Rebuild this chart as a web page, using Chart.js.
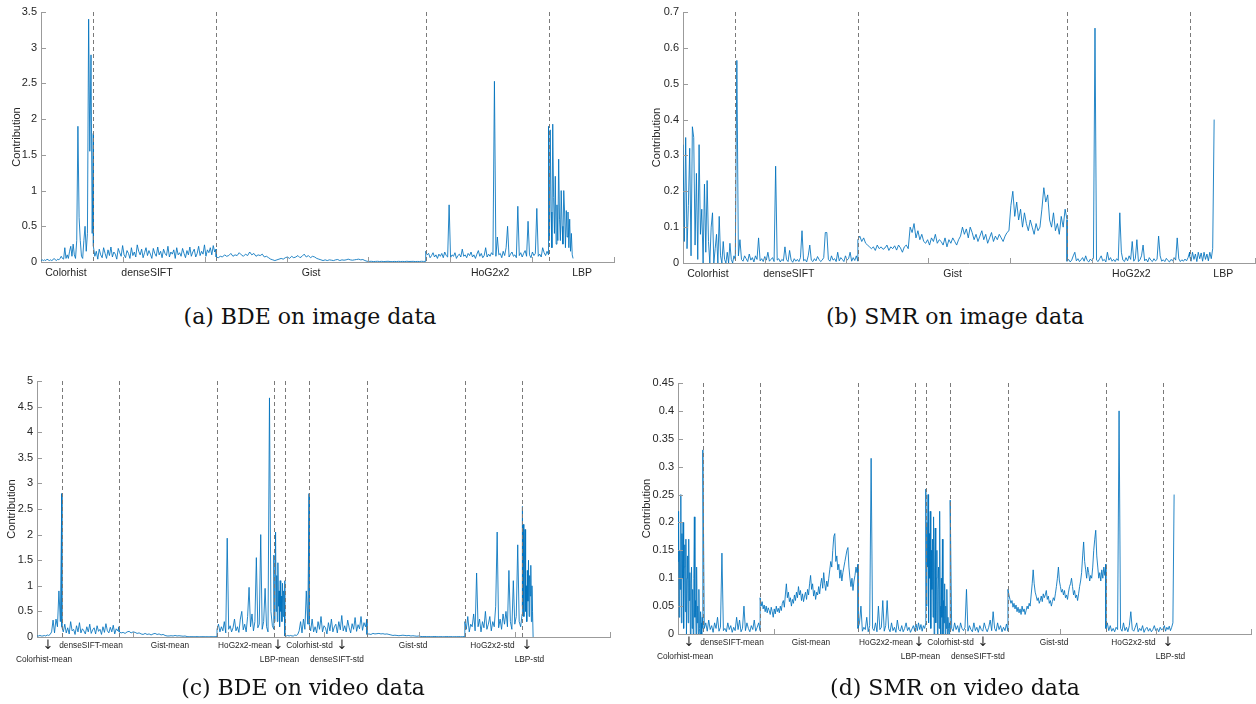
<!DOCTYPE html>
<html>
<head>
<meta charset="utf-8">
<script src="https://cdn.jsdelivr.net/npm/chart.js@4.4.1/dist/chart.umd.min.js"></script>
<style>
  html, body { margin: 0; padding: 0; background: #ffffff; }
  body { width: 1256px; height: 704px; position: relative; overflow: hidden; }
  canvas { position: absolute; }
  .cap { position: absolute; font-family: "DejaVu Serif", "Liberation Serif", serif; font-size: 22px; color: #111; white-space: nowrap; transform: translateX(-50%); }
</style>
</head>
<body>
<canvas id="cA" width="630" height="300" style="left:0px;top:0px"></canvas>
<canvas id="cB" width="616" height="300" style="left:640px;top:0px"></canvas>
<canvas id="cC" width="630" height="334" style="left:0px;top:370px"></canvas>
<canvas id="cD" width="616" height="334" style="left:640px;top:370px"></canvas>
<div class="cap" style="left:310px;top:304px">(a) BDE on image data</div>
<div class="cap" style="left:955px;top:304px">(b) SMR on image data</div>
<div class="cap" style="left:303px;top:675px">(c) BDE on video data</div>
<div class="cap" style="left:955px;top:675px">(d) SMR on video data</div>
<script>
// ---------------- categories / tick labels ----------------
const imgFeatures = ['Colorhist', 'denseSIFT', 'Gist', 'HoG2x2', 'LBP'];
const imgBounds = [0, 640, 2140, 4700, 6200, 6500];
const imgLabelPos = [305, 1295, 3300, 5487, 6611];

const vidFeatures = ['Colorhist-mean', 'denseSIFT-mean', 'Gist-mean', 'HoG2x2-mean', 'LBP-mean',
                     'Colorhist-std', 'denseSIFT-std', 'Gist-std', 'HoG2x2-std', 'LBP-std'];
const vidBounds = [0, 520, 1720, 3770, 4960, 5190, 5700, 6910, 8960, 10160, 10390];
const vidRow1Text = ['↓', 'denseSIFT-mean', 'Gist-mean', 'HoG2x2-mean', '↓', 'Colorhist-std', '↓', 'Gist-std', 'HoG2x2-std', '↓'];
const vidRow1Pos = [230, 1131, 2785, 4356, 5047, 5706, 6387, 7874, 9538, 10261];
const vidRow2Text = ['Colorhist-mean', 'LBP-mean', 'denseSIFT-std', 'LBP-std'];
const vidRow2Pos = [147, 5078, 6282, 10313];

// ---------------- (a) BDE on image data ----------------
const bdeImgColorhist = [0.02,0.03,0.02,0.03,0.02,0.04,0.03,0.02,0.03,0.02,0.03,0.05,0.03,0.02,0.04,0.03,0.05,0.08,0.05,0.04,0.2,0.05,0.1,0.05,0.15,0.22,0.08,0.25,0.1,0.05,0.3,1.9,0.62,0.3,0.08,0.05,0.3,0.5,0.15,0.4,3.4,1.55,2.9,0.4,1.8];
const bdeImgDenseSIFT = [0.22,0.08,0.15,0.04,0.18,0.1,0.06,0.2,0.12,0.05,0.17,0.09,0.21,0.07,0.14,0.11,0.04,0.19,0.13,0.08,0.23,0.1,0.06,0.16,0.12,0.05,0.2,0.09,0.14,0.07,0.24,0.15,0.1,0.18,0.06,0.13,0.2,0.09,0.16,0.11,0.05,0.19,0.12,0.08,0.21,0.1,0.15,0.06,0.18,0.12,0.09,0.22,0.07,0.14,0.11,0.17,0.05,0.2,0.1,0.13,0.08,0.19,0.12,0.06,0.16,0.1,0.21,0.08,0.14,0.18,0.07,0.12,0.22,0.09,0.15,0.11,0.24,0.08,0.17,0.13,0.2,0.1,0.23,0.14,0.18];
const bdeImgGist = [0.07,0.06,0.08,0.07,0.1,0.08,0.09,0.12,0.08,0.1,0.09,0.13,0.1,0.08,0.11,0.09,0.14,0.1,0.12,0.08,0.1,0.09,0.11,0.07,0.08,0.06,
  0.04,0.03,0.02,0.03,0.04,0.05,0.04,
  0.06,0.07,0.05,0.08,0.06,0.07,0.09,0.06,0.08,0.11,0.07,0.09,0.06,0.08,0.07,0.05,0.04,0.03,
  0.02,0.03,0.02,0.03,0.025,0.02,0.03,0.035,0.02,0.03,0.025,0.03,0.04,0.03,0.025,0.03,0.035,0.04,0.03,0.035,0.02,0.01,
  0.008,0.01,0.006,0.008,0.01,0.007,0.009,0.006,0.008,0.01,0.007,0.005,0.008,0.006,0.009,0.007,0.008,0.006,0.01,0.007,0.008,0.009,0.006,0.008,0.007,0.01,0.008,0.009];
const bdeImgHoG2x2 = [0.15,0.1,0.12,0.06,0.09,0.13,0.07,0.1,0.05,0.11,0.08,0.12,0.06,0.14,0.09,0.07,0.8,
  0.06,0.1,0.08,0.13,0.05,0.09,0.11,0.07,0.18,0.08,0.1,0.06,0.12,0.09,0.14,0.07,0.1,0.05,0.11,0.16,0.08,0.12,0.06,0.09,0.2,0.07,0.11,0.08,0.13,0.1,
  2.53,0.08,0.35,0.1,0.12,0.06,0.15,0.09,0.2,0.5,0.07,0.11,0.14,0.08,0.1,0.06,0.78,0.09,0.13,0.07,0.12,0.16,0.08,0.57,0.1,0.06,0.14,0.09,0.12,0.75,0.08,0.11,0.07,0.2,0.13,0.09,0.15,0.1];
const bdeImgLBP = [1.9,0.3,1.85,0.7,0.2,1.93,0.9,0.4,1.2,0.25,0.8,0.3,1.44,0.6,0.3,1.0,0.5,0.25,1.0,0.7,0.2,0.72,0.35,0.7,0.2,0.6,0.15,0.4,0.1,0.05];

// ---------------- (b) SMR on image data ----------------
const smrImgColorhist = [0.33,0.06,0.35,0.04,0.16,0.32,0.02,0.38,0.35,0.05,0.25,0.01,0.33,0.08,0.15,0.0,0.22,0.03,0.23,0.06,0.0,0.1,0.14,0.0,0.04,0.08,0.0,0.13,0.02,0.0,0.06,0.01,0.0,0.03,0.0,0.055,0.01,0.0,0.02,0.01];
const smrImgDenseSIFT = [0.01,0.565,0.02,0.065,0.01,0.005,0.02,0.012,0.004,0.025,0.008,0.015,0.003,0.02,0.01,0.07,0.006,0.012,0.004,0.018,0.008,0.03,0.005,0.01,0.015,0.004,0.27,0.008,0.012,0.003,0.01,0.006,0.045,0.01,0.004,0.035,0.008,0.002,0.012,0.005,0.01,0.004,0.015,0.09,0.006,0.01,0.003,0.02,0.05,0.008,0.004,0.012,0.006,0.018,0.01,0.004,0.008,0.015,0.085,0.085,0.01,0.005,0.02,0.008,0.012,0.004,0.03,0.006,0.015,0.01,0.004,0.02,0.008,0.012,0.03,0.005,0.015,0.007,0.02,0.005];
const smrImgGist = [0.065,0.075,0.06,0.07,0.055,0.05,0.045,
  0.04,0.045,0.035,0.05,0.04,0.045,0.038,0.042,0.05,0.035,0.045,0.04,0.048,0.036,0.05,0.042,0.03,0.045,0.05,0.04,
  0.1,0.085,0.11,0.07,0.09,0.065,0.08,0.06,0.055,0.065,0.05,0.07,0.06,0.08,0.055,0.065,
  0.06,0.05,0.07,0.045,0.065,0.055,0.07,0.06,0.05,0.065,0.075,
  0.1,0.08,0.095,0.07,0.1,0.085,0.065,0.08,0.06,0.075,0.09,0.065,0.08,0.055,0.07,0.085,0.06,0.075,0.065,0.08,0.07,0.06,0.075,0.085,0.09,
  0.16,0.2,0.13,0.17,0.12,0.15,0.1,0.14,0.11,0.09,0.12,0.1,0.08,0.11,0.09,0.1,
  0.15,0.21,0.17,0.19,0.12,0.1,0.14,0.09,0.11,0.08,0.13,0.1,0.15,0.12];
const smrImgHoG2x2 = [0.005,0.01,0.003,0.008,0.02,0.03,0.006,0.012,0.004,0.009,0.015,0.005,0.02,0.007,0.003,0.011,0.006,0.014,0.655,0.008,0.004,0.012,0.02,0.006,0.01,0.003,0.03,0.008,0.015,0.005,0.01,0.004,0.012,0.007,0.14,0.03,0.008,0.004,0.015,0.006,0.02,0.01,0.06,0.005,0.012,0.065,0.004,0.009,0.02,0.05,0.006,0.011,0.003,0.015,0.008,0.004,0.012,0.006,0.01,0.075,0.02,0.005,0.009,0.004,0.013,0.007,0.003,0.01,0.006,0.015,0.008,0.07,0.012,0.004,0.009,0.005,0.011,0.006,0.015,0.03];
const smrImgLBP = [0.02,0.005,0.03,0.01,0.025,0.004,0.03,0.012,0.028,0.005,0.03,0.01,0.025,0.006,0.03,0.012,0.04,0.4];

// ---------------- (c) BDE on video data ----------------
const bdeVidColorhistMean = [0.02,0.02,0.03,0.02,0.02,0.03,0.02,0.04,0.03,0.05,0.1,0.33,0.08,0.35,0.2,0.9,0.3,2.8];
const bdeVidDenseSIFTMean = [0.2,0.1,0.25,0.08,0.18,0.06,0.3,0.12,0.15,0.05,0.22,0.1,0.28,0.08,0.16,0.12,0.06,0.2,0.1,0.25,0.07,0.14,0.18,0.06,0.22,0.11,0.15,0.05,0.2,0.09,0.26,0.12,0.08,0.19,0.1,0.23,0.06,0.16,0.12,0.2];
const bdeVidGistMean = [0.1,0.08,0.09,0.07,0.1,0.11,0.08,0.1,0.09,0.07,0.08,
  0.06,0.05,0.07,0.05,0.06,0.04,0.06,0.07,0.05,0.06,0.04,0.05,0.03,0.02,
  0.02,0.025,0.02,0.03,0.02,0.025,0.02,0.015,0.02,
  0.008,0.005,0.007,0.006,0.005,0.008,0.004,0.006,0.007,0.005,0.006,0.004,0.007,0.005,0.006,0.008];
const bdeVidHoG2x2Mean = [0.15,0.25,0.1,0.2,0.12,0.3,0.08,1.93,0.15,0.22,0.1,0.18,0.35,0.12,0.2,0.09,0.35,0.5,0.14,0.25,0.1,0.4,0.97,0.2,0.45,0.12,0.3,1.55,0.18,0.25,2.0,0.15,0.3,0.95,0.2,0.1,4.67,0.5,0.22,0.15];
const bdeVidLBPMean = [1.6,0.3,0.9,2.05,0.5,1.2,0.3,1.45,0.6,0.9,0.2,1.1,0.5,0.8,0.3,1.05,0.4,0.9,0.6,1.1];
const bdeVidColorhistStd = [0.02,0.02,0.03,0.02,0.03,0.02,0.02,0.04,0.03,0.05,0.12,0.3,0.08,0.35,0.15,0.9,0.25,2.8];
const bdeVidDenseSIFTStd = [0.25,0.12,0.35,0.1,0.2,0.08,0.3,0.15,0.4,0.1,0.22,0.18,0.06,0.28,0.12,0.35,0.1,0.2,0.25,0.08,0.3,0.14,0.42,0.12,0.22,0.1,0.33,0.18,0.08,0.26,0.15,0.38,0.11,0.24,0.16,0.4,0.13,0.28,0.2,0.35];
const bdeVidGistStd = [0.05,0.06,0.05,0.07,0.06,0.065,0.07,0.06,0.065,0.055,0.06,0.05,
  0.04,0.03,0.035,0.03,0.025,0.03,0.035,0.03,0.025,0.03,0.02,0.025,0.02,0.015,0.02,
  0.01,0.008,0.01,0.007,0.009,0.006,0.008,0.01,0.007,0.006,0.008,0.005,0.007,0.009,0.006,0.008,0.005,0.007,0.006,0.008,0.005,0.007,0.01];
const bdeVidHoG2x2Std = [0.3,0.15,0.4,0.1,0.25,0.2,0.45,0.12,1.25,0.2,0.35,0.1,0.3,0.18,0.5,0.15,0.25,0.4,0.12,0.3,0.2,0.6,2.05,0.18,0.35,0.15,0.45,0.25,0.5,0.2,1.3,0.3,0.15,1.1,0.25,0.4,1.8,0.3,0.2,0.45];
const bdeVidLBPStd = [2.55,0.6,2.2,0.4,1.5,2.1,0.5,1.0,0.3,1.3,0.7,1.5,0.4,1.2,0.8,1.4,0.3,1.0,0.5,0.0];

// ---------------- (d) SMR on video data ----------------
const smrVidColorhistMean = [0.13,0.22,0.03,0.15,0.08,0.25,0.02,0.18,0.1,0.2,0.01,0.12,0.16,0.04,0.17,0.0,0.1,0.14,0.02,0.17,0.06,0.11,0.0,0.09,0.12,0.01,0.08,0.0,0.1,0.21,0.03,0.06,0.0,0.12,0.02,0.05,0.0,0.08,0.01,0.0,0.04,0.02,0.0,0.03,0.01];
const smrVidDenseSIFTMean = [0.33,0.01,0.02,0.005,0.025,0.008,0.015,0.003,0.02,0.01,0.03,0.005,0.012,0.145,0.006,0.01,0.004,0.02,0.008,0.015,0.003,0.012,0.006,0.03,0.008,0.025,0.004,0.01,0.05,0.006,0.02,0.01,0.004,0.015,0.008,0.025,0.005,0.012,0.02,0.006];
const smrVidGistMean = [0.065,0.05,0.058,0.045,0.052,0.04,0.05,0.038,0.047,0.042,
  0.035,0.048,0.04,0.03,0.045,0.036,0.05,0.04,0.046,0.038,
  0.05,0.042,0.055,0.06,0.048,0.07,0.09,0.065,0.075,0.058,
  0.065,0.05,0.062,0.055,0.07,0.06,0.075,0.065,0.085,0.07,
  0.078,0.06,0.072,0.058,0.068,0.075,0.062,0.08,0.07,0.09,
  0.105,0.08,0.09,0.068,0.078,0.062,0.075,0.07,0.085,0.072,
  0.09,0.1,0.082,0.11,0.09,0.078,0.095,0.085,0.1,0.115,
  0.13,0.12,0.15,0.175,0.18,0.13,0.14,0.115,0.125,0.1,
  0.115,0.095,0.11,0.12,0.13,0.14,0.15,0.155,0.12,0.1,
  0.085,0.1,0.078,0.095,0.105,0.12,0.11,0.125];
const smrVidHoG2x2Mean = [0.01,0.02,0.05,0.005,0.012,0.008,0.03,0.004,0.015,0.315,0.01,0.006,0.02,0.004,0.05,0.008,0.012,0.06,0.005,0.015,0.06,0.01,0.004,0.02,0.006,0.012,0.003,0.025,0.008,0.005,0.015,0.004,0.01,0.02,0.006,0.012,0.003,0.009,0.015,0.005];
const smrVidLBPMean = [0.01,0.018,0.006,0.02,0.008,0.017,0.005,0.015,0.01,0.02];
const smrVidColorhistStd = [0.26,0.05,0.2,0.12,0.25,0.02,0.18,0.1,0.22,0.01,0.15,0.08,0.17,0.03,0.21,0.0,0.12,0.19,0.02,0.1,0.15,0.0,0.08,0.12,0.01,0.22,0.05,0.0,0.1,0.03,0.17,0.0,0.06,0.02,0.09,0.0,0.05,0.01,0.08,0.0,0.03,0.01,0.0,0.02,0.01];
const smrVidDenseSIFTStd = [0.24,0.01,0.005,0.02,0.008,0.015,0.003,0.02,0.01,0.006,0.012,0.08,0.005,0.015,0.008,0.004,0.02,0.006,0.012,0.003,0.015,0.008,0.005,0.02,0.01,0.004,0.012,0.025,0.006,0.04,0.01,0.005,0.02,0.008,0.015,0.004,0.012,0.006,0.018,0.005];
const smrVidGistStd = [0.08,0.07,0.062,0.055,0.06,0.048,0.055,0.045,0.052,0.04,
  0.048,0.038,0.045,0.035,0.05,0.04,0.045,0.035,0.042,0.05,
  0.045,0.055,0.05,0.07,0.09,0.115,0.09,0.075,0.068,0.06,
  0.065,0.055,0.06,0.068,0.058,0.072,0.065,0.07,0.078,0.062,
  0.068,0.055,0.06,0.05,0.058,0.065,0.06,0.072,0.085,0.1,
  0.12,0.095,0.085,0.075,0.08,0.07,0.078,0.065,0.07,0.062,
  0.075,0.085,0.09,0.1,0.085,0.07,0.078,0.065,0.07,0.06,
  0.072,0.085,0.095,0.11,0.14,0.165,0.13,0.115,0.1,0.12,
  0.11,0.095,0.105,0.1,0.12,0.15,0.17,0.186,0.14,0.12,
  0.1,0.11,0.095,0.115,0.1,0.12,0.105,0.125];
const smrVidHoG2x2Std = [0.01,0.02,0.006,0.015,0.005,0.01,0.004,0.012,0.008,0.4,0.01,0.005,0.02,0.006,0.012,0.004,0.015,0.04,0.008,0.005,0.012,0.02,0.004,0.01,0.006,0.015,0.003,0.009,0.012,0.005,0.01,0.004,0.008,0.015,0.006,0.01,0.004,0.012,0.007,0.01];
const smrVidLBPStd = [0.01,0.015,0.005,0.012,0.008,0.014,0.006,0.012,0.02,0.25];

// ---------------- helpers ----------------
function buildPoints(bounds, segments) {
  const pts = [];
  segments.forEach((vals, s) => {
    const a = bounds[s], b = bounds[s + 1], n = vals.length;
    vals.forEach((v, i) => pts.push({ x: a + (n > 1 ? i / (n - 1) : 0) * (b - a), y: v }));
  });
  return pts;
}

const AXIS_COLOR = '#9b9b9b';
const TEXT_COLOR = '#262626';
const SANS = '"Liberation Sans", Arial, Helvetica, sans-serif';

const decorPlugin = {
  id: 'decor',
  afterDatasetsDraw(chart, args, opts) {
    const { ctx, chartArea: ca, scales: { x, y } } = chart;
    ctx.save();
    ctx.strokeStyle = '#7a7a7a';
    ctx.lineWidth = 1;
    ctx.setLineDash([4, 3]);
    opts.separators.forEach(v => {
      const px = Math.round(x.getPixelForValue(v)) + 0.5;
      ctx.beginPath(); ctx.moveTo(px, ca.top); ctx.lineTo(px, ca.bottom); ctx.stroke();
    });
    ctx.setLineDash([]);
    ctx.strokeStyle = AXIS_COLOR;
    for (let v = opts.xStep; v <= x.max + 1e-6; v += opts.xStep) {
      const px = Math.round(x.getPixelForValue(v)) + 0.5;
      ctx.beginPath(); ctx.moveTo(px, ca.bottom); ctx.lineTo(px, ca.bottom - 5); ctx.stroke();
    }
    y.ticks.forEach(t => {
      const py = Math.round(y.getPixelForValue(t.value)) + 0.5;
      ctx.beginPath(); ctx.moveTo(ca.left, py); ctx.lineTo(ca.left + 5, py); ctx.stroke();
    });
    ctx.fillStyle = TEXT_COLOR;
    ctx.textAlign = 'center';
    ctx.textBaseline = 'middle';
    opts.rows.forEach(row => {
      row.text.forEach((t, i) => {
        const px = x.getPixelForValue(row.pos[i]);
        ctx.font = t === '↓' ? '13px "DejaVu Sans", sans-serif' : row.font;
        ctx.fillText(t, px, ca.bottom + row.dy);
      });
    });
    ctx.restore();
  }
};

function makeChart(id, cfg) {
  return new Chart(document.getElementById(id), {
    type: 'line',
    data: {
      datasets: [{
        data: buildPoints(cfg.bounds, cfg.segments),
        borderColor: 'rgba(0,114,189,0.95)',
        borderWidth: 0.9,
        pointRadius: 0,
        tension: 0,
        fill: false
      }]
    },
    options: {
      responsive: false,
      animation: false,
      events: [],
      layout: { padding: cfg.padding },
      plugins: {
        legend: { display: false },
        tooltip: { enabled: false },
        decor: { separators: cfg.bounds.slice(1, cfg.bounds.length - 1), xStep: cfg.xStep, rows: cfg.rows }
      },
      scales: {
        x: {
          type: 'linear', min: 0, max: cfg.xMax,
          ticks: { display: false, stepSize: cfg.xStep },
          grid: { display: false, drawTicks: false },
          border: { display: true, color: AXIS_COLOR, width: 1 },
          afterFit: s => { s.height = 0; }
        },
        y: {
          min: 0, max: cfg.yMax,
          ticks: {
            stepSize: cfg.yStep, padding: 4, color: TEXT_COLOR, font: { family: SANS, size: 11 },
            callback: v => String(Number(Number(v).toFixed(4)))
          },
          grid: { display: false, drawTicks: false },
          border: { display: true, color: AXIS_COLOR, width: 1 },
          title: { display: true, text: 'Contribution', color: TEXT_COLOR, font: { family: SANS, size: 11 }, padding: { top: cfg.titlePad, bottom: 0 } },
          afterFit: s => { s.width = cfg.yWidth; }
        }
      }
    },
    plugins: [decorPlugin]
  });
}

const imgRows = [{ text: imgFeatures, pos: imgLabelPos, dy: 11, font: '10.5px ' + SANS }];
const vidRows = [
  { text: vidRow1Text, pos: vidRow1Pos, dy: 9, font: '8.3px ' + SANS },
  { text: vidRow2Text, pos: vidRow2Pos, dy: 23, font: '8.3px ' + SANS }
];

makeChart('cA', {
  bounds: imgBounds,
  segments: [bdeImgColorhist, bdeImgDenseSIFT, bdeImgGist, bdeImgHoG2x2, bdeImgLBP],
  xMax: 7000, xStep: 1000, yMax: 3.5, yStep: 0.5,
  yWidth: 41, titlePad: 10.4,
  padding: { left: 0, top: 12, right: 16, bottom: 38 },
  rows: imgRows
});
makeChart('cB', {
  bounds: imgBounds,
  segments: [smrImgColorhist, smrImgDenseSIFT, smrImgGist, smrImgHoG2x2, smrImgLBP],
  xMax: 7000, xStep: 1000, yMax: 0.7, yStep: 0.1,
  yWidth: 43, titlePad: 10.4,
  padding: { left: 0, top: 12, right: 1, bottom: 37 },
  rows: imgRows
});
makeChart('cC', {
  bounds: vidBounds,
  segments: [bdeVidColorhistMean, bdeVidDenseSIFTMean, bdeVidGistMean, bdeVidHoG2x2Mean, bdeVidLBPMean,
             bdeVidColorhistStd, bdeVidDenseSIFTStd, bdeVidGistStd, bdeVidHoG2x2Std, bdeVidLBPStd],
  xMax: 12000, xStep: 2000, yMax: 5, yStep: 0.5,
  yWidth: 37, titlePad: 5.4,
  padding: { left: 0, top: 11, right: 20, bottom: 67 },
  rows: vidRows
});
makeChart('cD', {
  bounds: vidBounds,
  segments: [smrVidColorhistMean, smrVidDenseSIFTMean, smrVidGistMean, smrVidHoG2x2Mean, smrVidLBPMean,
             smrVidColorhistStd, smrVidDenseSIFTStd, smrVidGistStd, smrVidHoG2x2Std, smrVidLBPStd],
  xMax: 12000, xStep: 2000, yMax: 0.45, yStep: 0.05,
  yWidth: 38, titlePad: 0.4,
  padding: { left: 0, top: 13, right: 5, bottom: 70 },
  rows: vidRows
});
</script>
</body>
</html>
